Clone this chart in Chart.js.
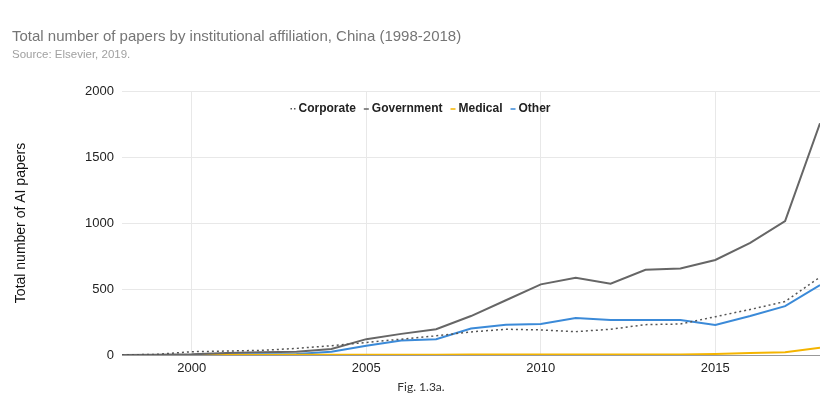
<!DOCTYPE html>
<html>
<head>
<meta charset="utf-8">
<script src="https://cdn.jsdelivr.net/npm/chart.js@4"></script>
<style>
  body { margin: 0; background: #fff; }
  #wrap { position: relative; width: 838px; height: 405px; }
  #chart { position: absolute; left: 0; top: 0; }
  .title { position: absolute; left: 12px; top: 27px; font: 15px "Liberation Sans", Arial, sans-serif; color: #757575; }
  .subtitle { position: absolute; left: 12px; top: 48px; font: 11.5px "Liberation Sans", Arial, sans-serif; color: #a0a0a0; }
  .caption { position: absolute; left: 2px; width: 838px; top: 379px; text-align: center; font: 12px Lato, "Noto Sans", sans-serif; color: #333; }
</style>
</head>
<body>
<div id="wrap">
  <canvas id="chart" width="838" height="405"></canvas>
  <div class="title">Total number of papers by institutional affiliation, China (1998-2018)</div>
  <div class="subtitle">Source: Elsevier, 2019.</div>
  <div class="caption">Fig. 1.3a.</div>
</div>
<script>
// Chart data
const years = [1998, 1999, 2000, 2001, 2002, 2003, 2004, 2005, 2006, 2007, 2008,
  2009, 2010, 2011, 2012, 2013, 2014, 2015, 2016, 2017, 2018];
const corporate = [0, 5, 25, 30, 35, 50, 70, 95, 120, 145, 175, 195, 190, 177, 195, 230, 235, 290, 345, 405, 590];
const government = [0, 2, 5, 15, 20, 25, 45, 120, 160, 195, 295, 415, 535, 585, 540, 645, 655, 720, 850, 1015, 1755];
const medical = [0, 0, 0, 0, 0, 1, 1, 2, 2, 2, 3, 3, 3, 3, 3, 3, 4, 8, 15, 20, 55];
const other = [0, 0, 0, 3, 5, 8, 25, 70, 110, 120, 200, 230, 235, 280, 265, 265, 265, 228, 295, 370, 530];
const xTicks = [2000, 2005, 2010, 2015];
const yTicks = [0, 500, 1000, 1500, 2000];

function toPoints(values) {
  return values.map((v, i) => ({ x: years[i], y: v }));
}

// Legend drawn inside the plot area, like the original
const insideLegend = {
  id: 'insideLegend',
  afterDraw(chart) {
    const ctx = chart.ctx;
    const items = chart.data.datasets;
    ctx.save();
    ctx.font = 'bold 12px "Liberation Sans", Arial, sans-serif';
    ctx.textBaseline = 'middle';
    const markW = 7, gap = 2, spacing = 7;
    let total = 0;
    items.forEach(ds => { total += markW + gap + ctx.measureText(ds.label).width + spacing; });
    total -= spacing;
    let x = 420 - total / 2;
    const y = 108;
    items.forEach(ds => {
      ctx.strokeStyle = ds.borderColor;
      ctx.lineWidth = 1.5;
      if (ds.borderDash && ds.borderDash.length) {
        ctx.fillStyle = ds.borderColor;
        ctx.fillRect(x + 1, y, 1.5, 1.5);
        ctx.fillRect(x + 4.5, y, 1.5, 1.5);
      } else {
        ctx.beginPath();
        ctx.moveTo(x + 1, y + 1);
        ctx.lineTo(x + 6, y + 1);
        ctx.stroke();
      }
      x += markW + gap;
      ctx.fillStyle = '#222';
      ctx.fillText(ds.label, x, y + 1);
      x += ctx.measureText(ds.label).width + spacing;
    });
    ctx.restore();
  }
};

new Chart(document.getElementById('chart'), {
  type: 'line',
  data: {
    datasets: [
      { label: 'Corporate', data: toPoints(corporate), borderColor: '#555555', borderWidth: 1.5, borderDash: [2, 3] },
      { label: 'Government', data: toPoints(government), borderColor: '#666666', borderWidth: 2 },
      { label: 'Medical', data: toPoints(medical), borderColor: '#f4b400', borderWidth: 2 },
      { label: 'Other', data: toPoints(other), borderColor: '#3b8ad8', borderWidth: 2 }
    ]
  },
  options: {
    responsive: false,
    animation: false,
    elements: { point: { radius: 0 }, line: { tension: 0 } },
    layout: { padding: { top: 91, left: 13, right: 18, bottom: 22 } },
    plugins: {
      legend: { display: false },
      tooltip: { enabled: false }
    },
    scales: {
      x: {
        type: 'linear',
        min: 1998,
        max: 2018,
        afterBuildTicks: scale => { scale.ticks = xTicks.map(v => ({ value: v })); },
        afterFit: scale => { scale.height = 28; },
        grid: { color: '#e8e8e8', drawTicks: false },
        border: { display: false },
        ticks: {
          padding: 6,
          color: '#222',
          font: { size: 13, family: '"Liberation Sans", Arial, sans-serif' },
          callback: v => String(v)
        }
      },
      y: {
        min: 0,
        max: 2000,
        afterBuildTicks: scale => { scale.ticks = yTicks.map(v => ({ value: v })); },
        afterFit: scale => { scale.width = 109; },
        grid: {
          drawTicks: false,
          color: ctx => ctx.tick && ctx.tick.value === 0 ? '#999999' : '#e8e8e8'
        },
        border: { display: false },
        title: {
          display: true,
          text: 'Total number of AI papers',
          color: '#111',
          font: { size: 14, family: '"Liberation Sans", Arial, sans-serif' },
          padding: { top: 0, bottom: 0 }
        },
        ticks: {
          padding: 8,
          color: '#222',
          font: { size: 13, family: '"Liberation Sans", Arial, sans-serif' },
          callback: v => String(v)
        }
      }
    }
  },
  plugins: [insideLegend]
});
</script>
</body>
</html>
